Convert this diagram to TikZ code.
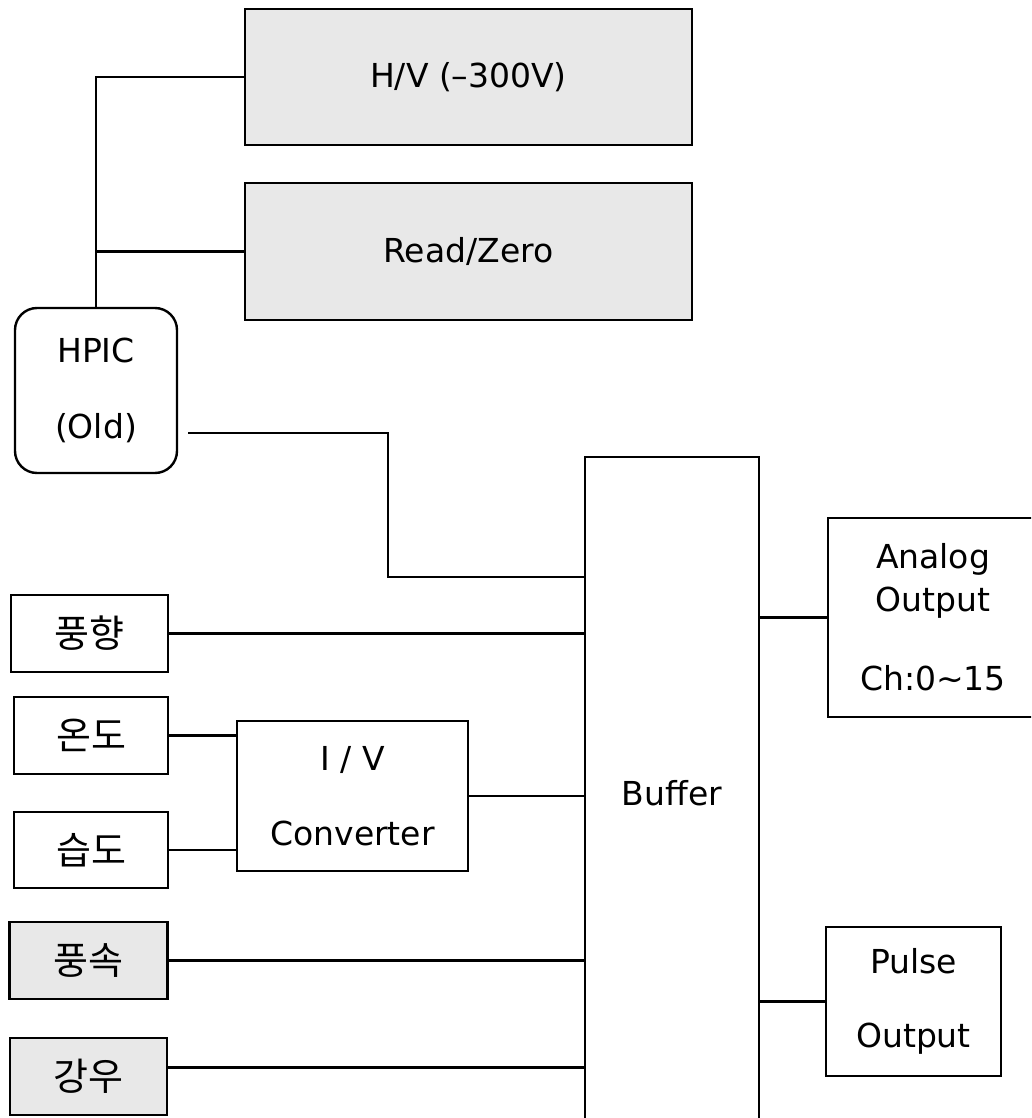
\documentclass[tikz,border=0pt]{standalone}
\usepackage{fontspec}
\setmainfont{DejaVu Sans}
\newfontfamily\kr{Noto Sans CJK KR}

\begin{document}
\begin{tikzpicture}[x=1pt,y=-1pt,
    blk/.style={draw,line width=2.4pt,inner sep=0pt,align=center,
        font=\fontsize{33}{43}\selectfont},
    sensor/.style={blk,minimum height=77pt,
        font=\kr\fontsize{38}{43}\selectfont},
    shaded/.style={fill=black!9},
    wire/.style={line width=2.2pt}]
    \clip (0,0) rectangle (1031,1118);

    % high voltage part
    \node[blk,shaded,minimum width=447pt,minimum height=136pt] (hv) at (468.5,77) {H/V (–300V)};
    \node[blk,shaded,minimum width=447pt,minimum height=137pt] (rz) at (468.5,251.5) {Read/Zero};
    \node[blk,rounded corners=22pt,minimum width=162pt,minimum height=165pt] (hpic) at (96,390.5) {HPIC\\[33pt](Old)};

    % sensors
    \node[sensor,minimum width=157pt] (fh) at (89.5,633.5) {풍향};
    \node[sensor,minimum width=154pt] (ond) at (91,735.5) {온도};
    \node[sensor,minimum width=154pt,minimum height=76pt] (sd) at (91,850) {습도};
    \node[sensor,shaded,minimum width=158pt] (fs) at (88.5,960.5) {풍속};
    \node[sensor,shaded,minimum width=157pt] (gw) at (88.5,1076.5) {강우};

    \node[blk,minimum width=231pt,minimum height=150pt] (ivc) at (352.5,796) {I / V\\[32pt]Converter};
    \node[blk,minimum width=174pt,minimum height=672pt] (buf) at (672,793) {Buffer};

    % outputs
    \node[blk,minimum width=210pt,minimum height=199pt] (ao) at (933,617.5) {Analog\\Output\\[36pt]Ch:0∼15};
    \node[blk,minimum width=175pt,minimum height=149pt] (po) at (913.5,1001.5) {Pulse\\[31pt]Output};

    % wires
    \draw[wire] (hpic.north) |- (hv.west);
    \draw[wire] (hpic.north |- rz.west) -- (rz.west);
    \draw[wire,shorten <=10pt] (hpic.east |- 0,433) -- (388,433) -- (388,577) -- (buf.west |- 0,577);
    \draw[wire] (fh.east) -- (fh.east -| buf.west);
    \draw[wire] (ond.east) -- (ond.east -| ivc.west);
    \draw[wire] (sd.east) -- (sd.east -| ivc.west);
    \draw[wire] (ivc.east) -- (ivc.east -| buf.west);
    \draw[wire] (fs.east) -- (fs.east -| buf.west);
    \draw[wire] ([yshift=9pt]gw.east) -- ([yshift=9pt]gw.east -| buf.west);
    \draw[wire] (buf.east |- ao.west) -- (ao.west);
    \draw[wire] (buf.east |- po.west) -- (po.west);
\end{tikzpicture}
\end{document}
